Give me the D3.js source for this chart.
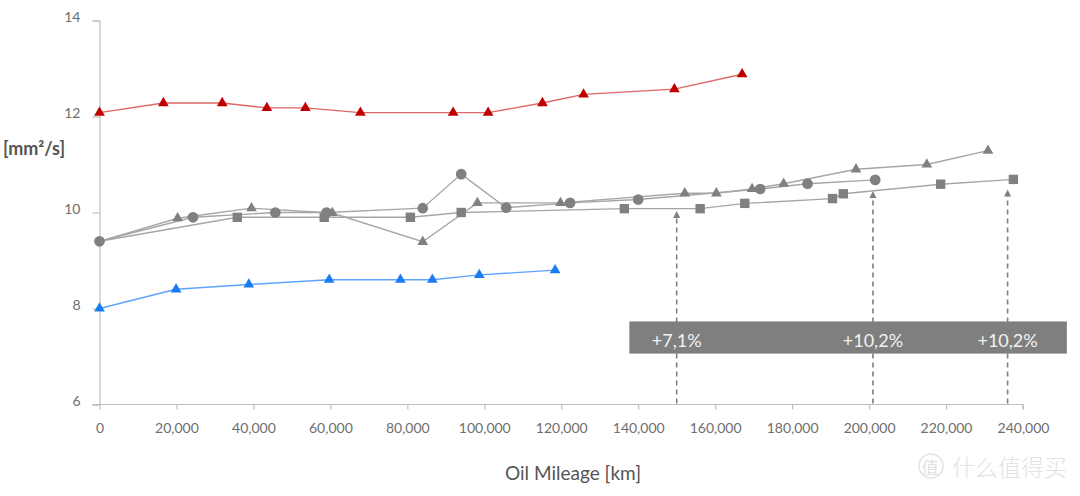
<!DOCTYPE html>
<html>
<head>
<meta charset="utf-8">
<script src="https://cdn.jsdelivr.net/npm/d3@7"></script>
<style>
  html, body { margin: 0; padding: 0; background: #fff; }
  svg { display: block; font-family: Lato, "Noto Sans", sans-serif; }
</style>
</head>
<body>
<svg id="chart" width="1080" height="496"></svg>
<script>
// oil viscosity [mm²/s] vs. mileage [km]
const redSeries = [
    [0, 12.08], [16600, 12.28], [31900, 12.28], [43500, 12.18], [53500, 12.18],
    [67800, 12.08], [91900, 12.08], [101000, 12.08], [115100, 12.28], [125800, 12.46],
    [149400, 12.57], [167000, 12.88]
];
const blueSeries = [
    [0, 8.0], [19900, 8.4], [38800, 8.5], [59700, 8.6], [78200, 8.6],
    [86500, 8.6], [98700, 8.7], [118400, 8.8]
];
const grayCircles = [
    [0, 9.4], [24300, 9.9], [45700, 10.0], [59000, 10.0], [84000, 10.09], [94000, 10.8],
    [105700, 10.1], [122300, 10.2], [140000, 10.27], [171700, 10.49], [184000, 10.6], [201600, 10.68]
];
const graySquares = [
    [0, 9.4], [35800, 9.9], [58400, 9.9], [80800, 9.9], [94000, 10.0], [136400, 10.08],
    [156100, 10.08], [167700, 10.19], [190500, 10.29], [193300, 10.39], [218600, 10.59], [237500, 10.69]
];
const grayTriangles = [
    [0, 9.4], [20300, 9.88], [39500, 10.09], [60500, 9.99], [84000, 9.39], [98200, 10.2],
    [119800, 10.2], [152100, 10.4], [160300, 10.4], [169600, 10.49], [177800, 10.6],
    [196600, 10.9], [215000, 11.0], [230900, 11.29]
];

const xTicks = [0, 20000, 40000, 60000, 80000, 100000, 120000, 140000, 160000, 180000, 200000, 220000, 240000];
const yTicks = [6, 8, 10, 12, 14];

// increase annotations
const arrowX = [150000, 201000, 236000];
const arrowTop = [10.03, 10.45, 10.48];
const arrowLabels = ["+7,1%", "+10,2%", "+10,2%"];
const bandX = [137700, 251400];
const bandY = [7.06, 7.73];

const svg = d3.select("#chart");

const x = d3.scaleLinear().domain([0, 240000]).range([99.5, 1023]);
const y = d3.scaleLinear().domain([6, 14]).range([404.5, 20.5]);

const axisColor = "#bfbfbf";
const labelColor = "#6e6e6e";

// y axis
const yAxis = svg.append("g")
    .attr("transform", "translate(" + x(0) + ",0)")
    .call(d3.axisLeft(y).tickValues(yTicks).tickSize(7).tickPadding(12).tickFormat(d3.format("d")));
yAxis.select(".domain").attr("stroke", axisColor).attr("stroke-width", 1.2);
yAxis.selectAll(".tick line").attr("stroke", axisColor).attr("stroke-width", 1.2);
yAxis.selectAll(".tick text")
    .attr("dy", "1px")
    .attr("fill", labelColor)
    .style("font-size", "14px")
    .style("font-family", "Lato, sans-serif");

// x axis
const xAxis = svg.append("g")
    .attr("transform", "translate(0," + y(6) + ")")
    .call(d3.axisBottom(x).tickValues(xTicks).tickSize(5).tickPadding(14).tickFormat(d3.format(",")));
xAxis.select(".domain").attr("stroke", axisColor).attr("stroke-width", 1.2)
    .attr("d", "M" + (x(0) - 7) + ",0H" + x(240000) + "V5");
xAxis.selectAll(".tick line").attr("stroke", axisColor).attr("stroke-width", 1.2);
xAxis.selectAll(".tick text")
    .attr("fill", labelColor)
    .style("font-size", "14px")
    .style("font-family", "Lato, sans-serif");

// axis titles
svg.append("text")
    .attr("x", 3).attr("y", 155)
    .attr("fill", "#555")
    .style("font-size", "18px")
    .style("font-weight", 700)
    .text("[mm²/s]");

svg.append("text")
    .attr("x", 573).attr("y", 480)
    .attr("text-anchor", "middle")
    .attr("fill", "#555")
    .style("font-size", "19px")
    .text("Oil Mileage [km]");

// dashed arrows
const arrows = svg.append("g");
arrowX.forEach((ax, i) => {
    const px = x(ax);
    const top = y(arrowTop[i]);
    arrows.append("line")
        .attr("x1", px).attr("x2", px)
        .attr("y1", y(6) - 1).attr("y2", top + 6)
        .attr("stroke", "#7f7f7f")
        .attr("stroke-width", 1.6)
        .attr("stroke-dasharray", "5,4");
    arrows.append("path")
        .attr("d", "M" + px + "," + top + "L" + (px - 3.5) + "," + (top + 7) + "L" + (px + 3.5) + "," + (top + 7) + "Z")
        .attr("fill", "#7f7f7f");
});

// grey band with labels
svg.append("rect")
    .attr("x", x(bandX[0]))
    .attr("y", y(bandY[1]))
    .attr("width", x(bandX[1]) - x(bandX[0]))
    .attr("height", y(bandY[0]) - y(bandY[1]))
    .attr("fill", "#7f7f7f");

svg.append("g").selectAll("text")
    .data(arrowLabels)
    .enter().append("text")
    .attr("x", (d, i) => x(arrowX[i]))
    .attr("y", y(bandY[0]) - 7)
    .attr("text-anchor", "middle")
    .attr("fill", "#f2f2f2")
    .style("font-size", "18px")
    .text(d => d);

// series - the three grey ones share the start point, only the circle is shown there
const line = d3.line().x(d => x(d[0])).y(d => y(d[1]));

const series = [
    { data: graySquares, line: "#a6a6a6", fill: "#808080", symbol: d3.symbolSquare, size: 88, skipFirst: true },
    { data: grayTriangles, line: "#a6a6a6", fill: "#808080", symbol: d3.symbolTriangle, size: 50, skipFirst: true },
    { data: grayCircles, line: "#a6a6a6", fill: "#808080", symbol: d3.symbolCircle, size: 90 },
    { data: blueSeries, line: "#5ea3ff", fill: "#1a7cf2", symbol: d3.symbolTriangle, size: 50 },
    { data: redSeries, line: "#e06666", fill: "#c00000", symbol: d3.symbolTriangle, size: 50 }
];

series.forEach(s => {
    svg.append("path")
        .datum(s.data)
        .attr("fill", "none")
        .attr("stroke", s.line)
        .attr("stroke-width", 1.4)
        .attr("d", line);
});

series.forEach(s => {
    svg.append("g").selectAll("path")
        .data(s.skipFirst ? s.data.slice(1) : s.data)
        .enter().append("path")
        .attr("transform", d => "translate(" + x(d[0]) + "," + y(d[1]) + ")")
        .attr("d", d3.symbol().type(s.symbol).size(s.size))
        .attr("fill", s.fill);
});

// watermark
const wm = svg.append("g").attr("fill", "#e2e2e2");
wm.append("circle")
    .attr("cx", 931).attr("cy", 466).attr("r", 12)
    .attr("fill", "none").attr("stroke", "#e2e2e2").attr("stroke-width", 1.5);
wm.append("text")
    .attr("x", 930).attr("y", 474)
    .attr("text-anchor", "middle")
    .style("font-family", "'Noto Sans CJK SC', sans-serif")
    .style("font-size", "17px")
    .text("值");
wm.append("text")
    .attr("x", 952).attr("y", 476)
    .style("font-family", "'Noto Sans CJK SC', sans-serif")
    .style("font-size", "23px")
    .style("font-weight", 300)
    .text("什么值得买");
</script>
</body>
</html>
